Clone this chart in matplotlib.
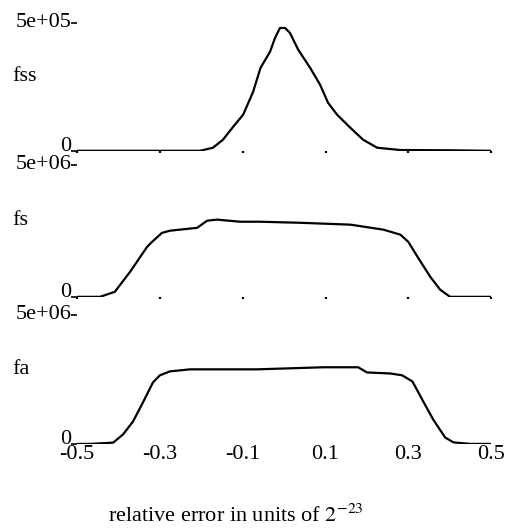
import matplotlib
matplotlib.use("Agg")
import matplotlib.pyplot as plt
from matplotlib.transforms import ScaledTranslation

plt.rcParams["font.family"] = ["Liberation Serif", "DejaVu Serif"]
plt.rcParams["mathtext.fontset"] = "stix"
plt.rcParams["axes.unicode_minus"] = False

# relative error (units of 2^-23) and counts
fss_x = [-0.5, -0.203, -0.172, -0.148, -0.123, -0.099, -0.075, -0.057, -0.034,
         -0.022, -0.010, 0.002, 0.014, 0.034, 0.063, 0.087, 0.106, 0.128, 0.160,
         0.191, 0.225, 0.281, 0.400, 0.5]
fss_y = [0, 0, 1.2e4, 4.3e4, 9.4e4, 1.41e5, 2.30e5, 3.24e5, 3.87e5,
         4.41e5, 4.80e5, 4.80e5, 4.61e5, 3.95e5, 3.24e5, 2.58e5, 1.88e5, 1.41e5, 9.0e4,
         4.3e4, 1.2e4, 3e3, 2e3, 0]

fs_x = [-0.5, -0.445, -0.409, -0.372, -0.331, -0.319, -0.295, -0.276, -0.210,
        -0.186, -0.162, -0.106, -0.058, 0.039, 0.160, 0.240, 0.281, 0.300, 0.322,
        0.353, 0.377, 0.401, 0.5]
fs_y = [0, 0, 1.9e5, 9.5e5, 1.89e6, 2.08e6, 2.42e6, 2.50e6, 2.61e6,
        2.88e6, 2.92e6, 2.84e6, 2.84e6, 2.80e6, 2.73e6, 2.54e6, 2.35e6, 2.08e6, 1.52e6,
        7.6e5, 2.7e5, 0, 0]

fa_x = [-0.5, -0.469, -0.413, -0.389, -0.365, -0.341, -0.317, -0.300, -0.276,
        -0.227, -0.065, 0.095, 0.179, 0.200, 0.256, 0.285, 0.310, 0.336, 0.360,
        0.389, 0.409, 0.45, 0.5]
fa_y = [0, 0, 5e4, 3.7e5, 8.7e5, 1.61e6, 2.38e6, 2.66e6, 2.81e6,
        2.89e6, 2.89e6, 2.97e6, 2.97e6, 2.77e6, 2.73e6, 2.66e6, 2.42e6, 1.65e6, 9.5e5,
        2.5e5, 6e4, 0, 0]

panels = [("fss", fss_x, fss_y, 5e5, "5e+05"),
          ("fs", fs_x, fs_y, 5e6, "5e+06"),
          ("fa", fa_x, fa_y, 5e6, "5e+06")]

xticks = [-0.5, -0.3, -0.1, 0.1, 0.3, 0.5]
xticklabels = ["-0.5", "-0.3", "-0.1", "0.1", "0.3", "0.5"]

fig = plt.figure(figsize=(5.11, 5.31), dpi=100)
# axes boxes in figure fractions: left, bottom, width, height
boxes = [(0.151, 0.716, 0.810, 0.241),
         (0.151, 0.441, 0.810, 0.249),
         (0.151, 0.164, 0.810, 0.243)]
shift_down = ScaledTranslation(0, -4 / 100, fig.dpi_scale_trans)

for i, ((name, xs, ys, top, toplab), box) in enumerate(zip(panels, boxes)):
    ax = fig.add_axes(box)
    ax.plot(xs, ys, color="black", lw=1.6, solid_joinstyle="round",
            solid_capstyle="round")
    ax.set_xlim(-0.5, 0.5)
    ax.set_ylim(0, top)
    for s in ax.spines.values():
        s.set_visible(False)
    ax.set_yticks([0, top])
    ax.set_yticklabels(["0", toplab], fontsize=16)
    ax.tick_params(axis="y", length=4, width=1.2, pad=0)
    labs = ax.get_yticklabels()
    for t in labs:
        t.set_verticalalignment("baseline")
    # the top label sits a little below its tick in the original
    labs[1].set_transform(labs[1].get_transform() + shift_down)
    ax.text(-0.157, 0.58, name, transform=ax.transAxes, fontsize=16,
            ha="left", va="center")
    ax.set_xticks(xticks)
    if i < 2:
        # the upper panels only show small dots where the x ticks are
        ax.set_xticklabels([])
        ax.tick_params(axis="x", length=1.5, width=1.6, direction="out")
    else:
        ax.set_xticklabels(xticklabels, fontsize=16)
        ax.tick_params(axis="x", length=0, pad=1)

fig.text(236 / 511, 1 - 522 / 531, "relative error in units of $2^{-23}$",
         fontsize=16, ha="center", va="baseline")

fig.savefig("out.png", dpi=100)
